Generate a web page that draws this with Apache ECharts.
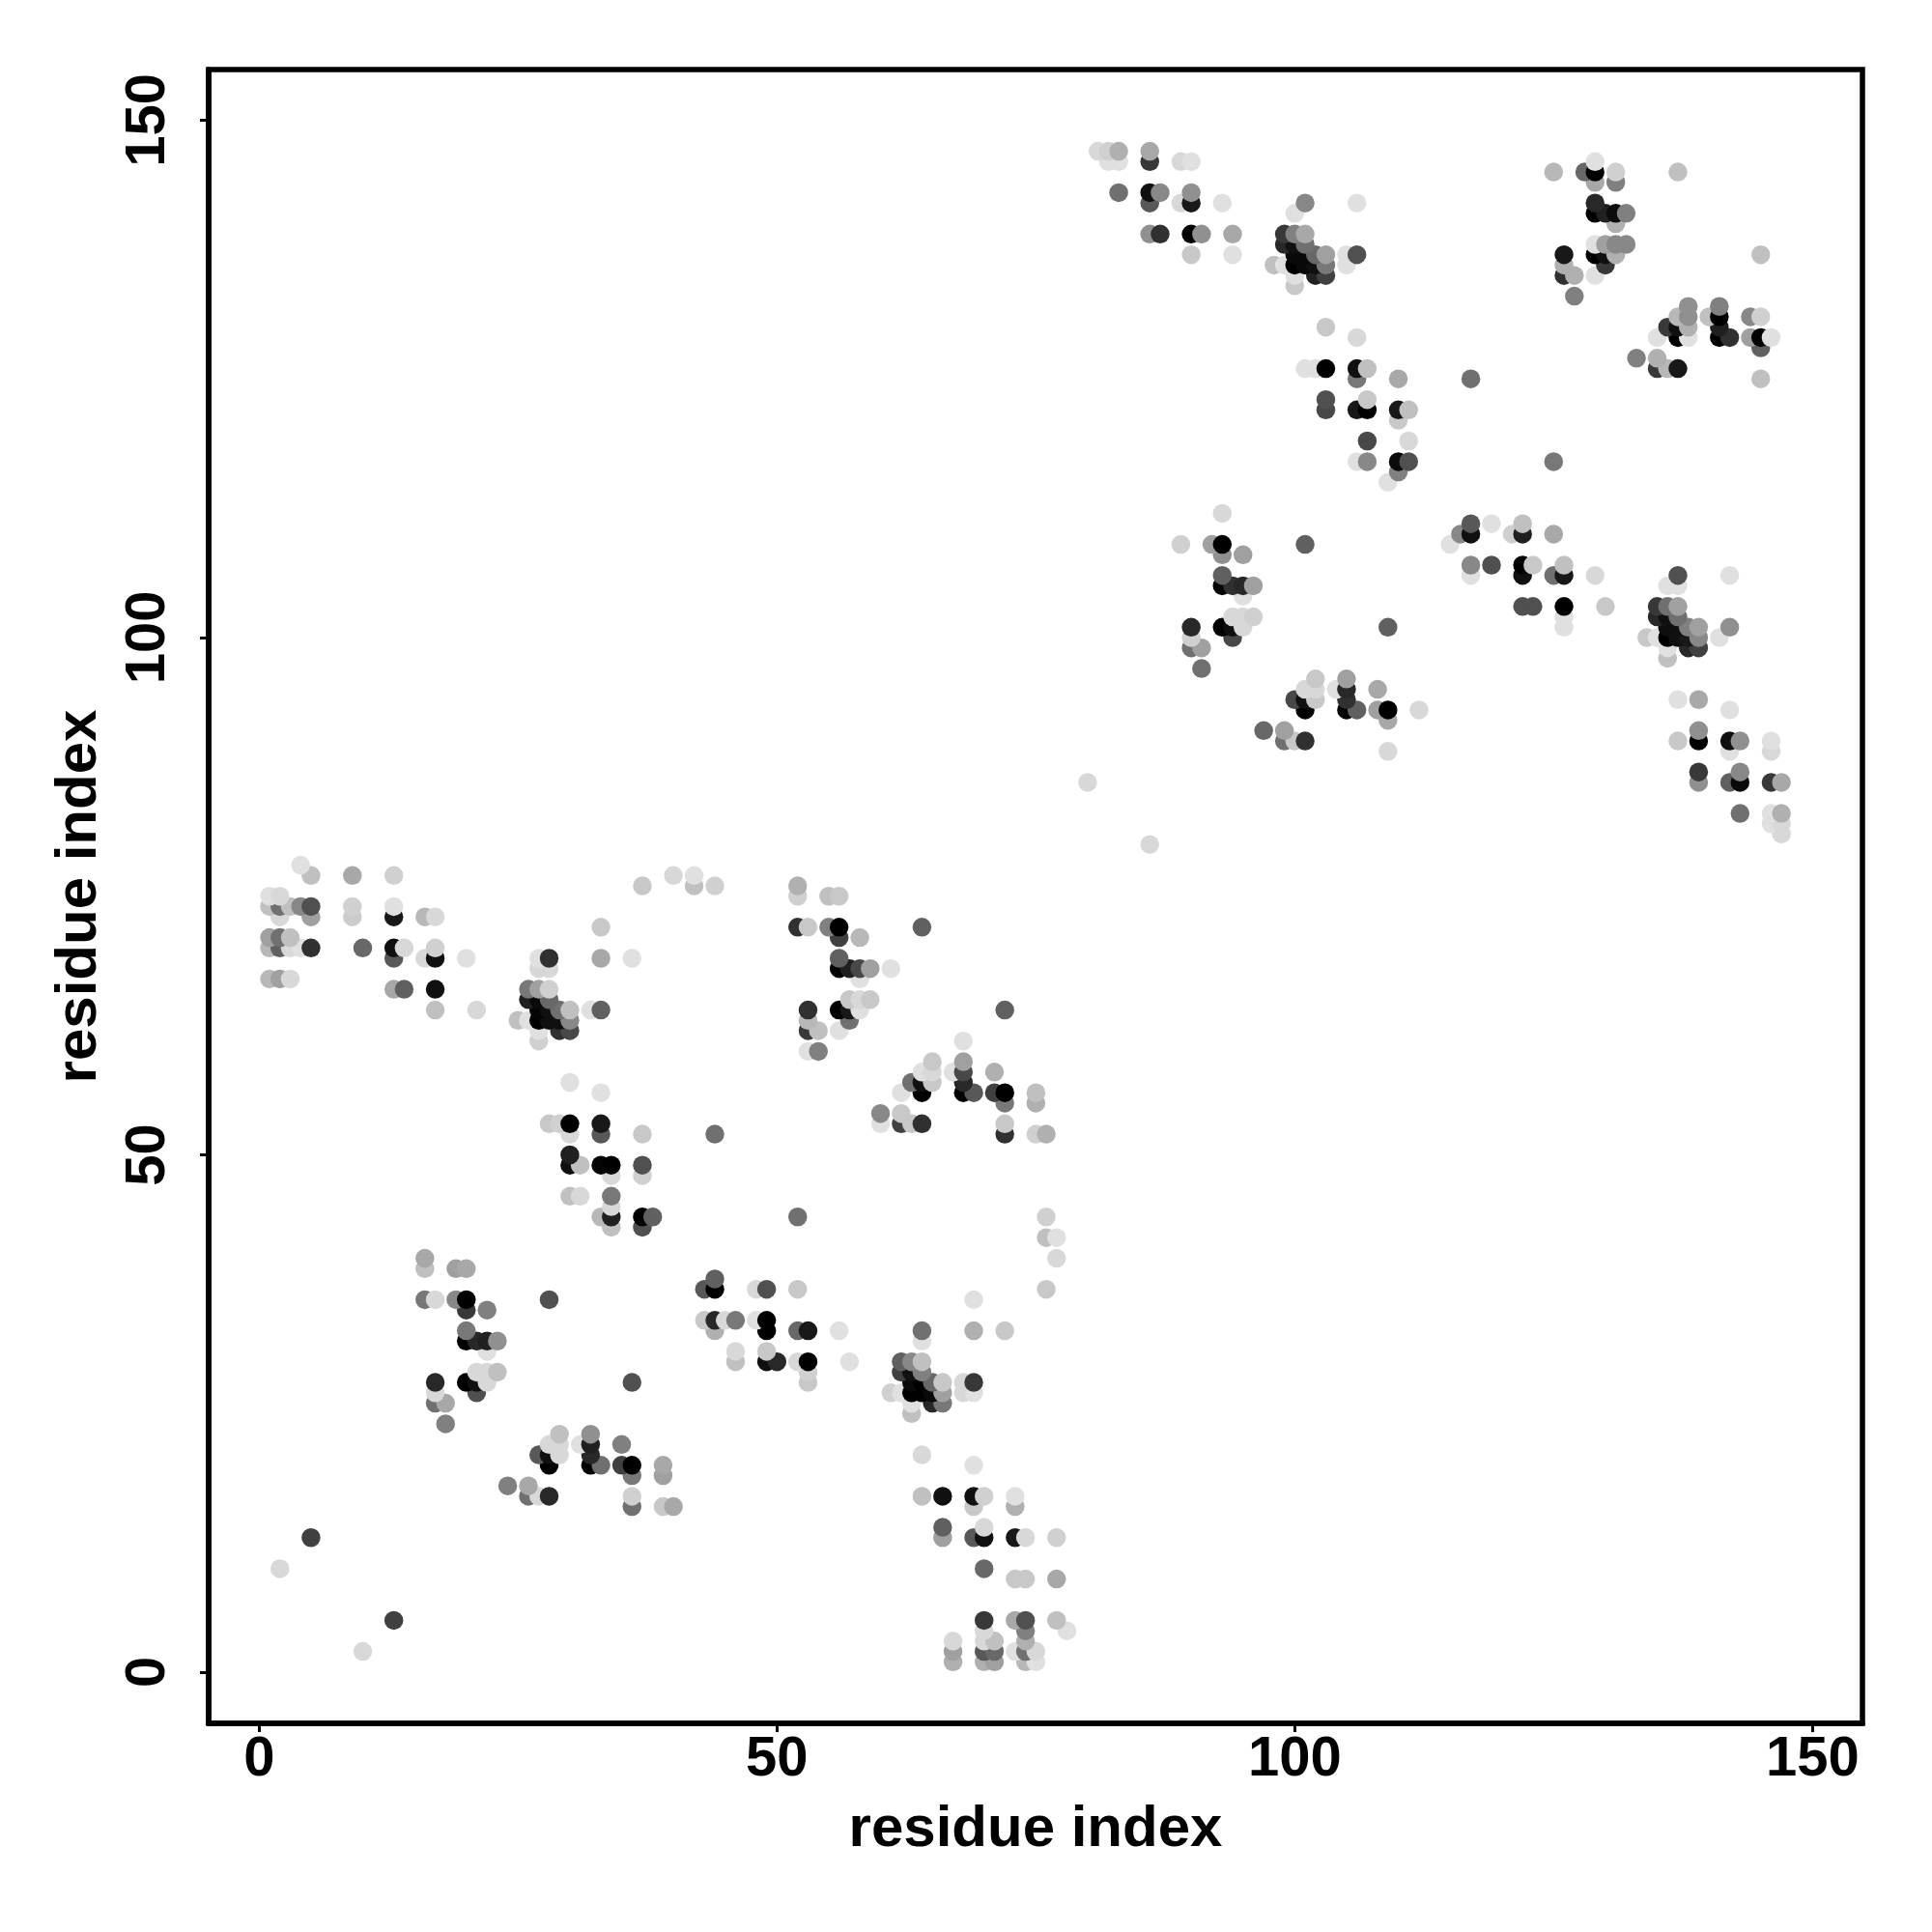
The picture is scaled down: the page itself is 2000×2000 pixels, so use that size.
<!DOCTYPE html>
<html>
<head>
<meta charset="utf-8">
<style>html,body{margin:0;padding:0;background:#fff}#c{width:2000px;height:2000px}</style>
<script src="https://cdn.jsdelivr.net/npm/echarts@6/dist/echarts.min.js"></script>
</head>
<body>
<div id="c"></div>
<script>
// Each entry: [residue x, residue y, grey level]
const xAxisTicks = [0, 50, 100, 150];
const yAxisTicks = [0, 50, 100, 150];
const xTitle = 'residue index';
const yTitle = 'residue index';

const blockUpperLeft = [
[4,78,0xe0],[5,77,0xc0],[9,77,0xa8],[13,77,0xd0],[37,76,0xc8],
[1,75,0xe0],[2,75,0xd8],
[1,74,0xc0],[2,74,0x70],[3,74,0xc0],[4,74,0x88],[5,74,0x50],[9,74,0xd0],[13,74,0xe0],
[2,73,0xd8],[5,73,0xa0],[9,73,0xcc],[13,73,0x18],[16,73,0xb8],[17,73,0xd8],
[33,72,0xc8],
[1,71,0xa0],[2,71,0x70],[3,71,0xc0],
[1,70,0xb8],[2,70,0x60],[3,70,0xd8],[4,70,0xe0],[5,70,0x30],[10,70,0x68],[13,70,0x10],[14,70,0xd8],[17,70,0xd0],
[13,69,0x58],[16,69,0xd8],[17,69,0x10],[20,69,0xe0],[27,69,0xe0],[28,69,0x30],[33,69,0xa8],[36,69,0xe0],
[27,68,0xd8],[28,68,0xd8],
[1,67,0xb8],[2,67,0xa0],[3,67,0xd8],
[13,66,0xa8],[14,66,0x60],[17,66,0x10],[26,66,0x78],[27,66,0xa0],[28,66,0xd0],
[26,65,0x20],[27,65,0x0a],[28,65,0x68],
[17,64,0xc0],[21,64,0xd8],[27,64,0x05],[28,64,0x10],[29,64,0x70],[30,64,0xc0],[32,64,0xe0],[33,64,0x60],
[25,63,0xc0],[26,63,0xe0],[27,63,0x00],[28,63,0x10],[29,63,0x10],[30,63,0x88],
[27,62,0xe0],[29,62,0x30],[30,62,0x48],
[27,61,0xd0]
];
const blockHelixA = [
[30,57,0xe0],[33,56,0xe0],
[28,53,0xc8],[29,53,0xd0],[30,53,0x00],[33,53,0x18],
[30,52,0xd8],[33,52,0x58],[37,52,0xc8],
[30,50,0x20],
[30,49,0x10],[31,49,0xc0],[33,49,0x05],[34,49,0x00],[37,49,0x50],
[34,48,0xd8],[37,48,0xd0],
[30,46,0xc0],[31,46,0xd8],[34,46,0x78],
[34,45,0xd8],
[33,44,0xb8],[34,44,0x20],[37,44,0x00],[38,44,0x60],
[34,43,0xc0],[37,43,0x50]
];
const blockMiddle = [
[40,77,0xd8],[42,77,0xe0],[42,76,0xc0],[44,76,0xd0],
[52,76,0xb0],[52,75,0xd0],[55,75,0xc0],[56,75,0xc8],
[52,72,0x30],[53,72,0xc8],[55,72,0x80],[56,72,0x00],[64,72,0x60],
[56,71,0x40],[58,71,0xb8],
[56,69,0x60],
[56,68,0x00],[57,68,0x20],[58,68,0x48],[59,68,0xa0],[61,68,0xe0],
[58,67,0xe0],
[57,65,0xc8],[58,65,0xd8],[59,65,0xc8],
[53,64,0x30],[56,64,0x00],[57,64,0x18],[58,64,0xe0],[72,64,0x60],
[53,63,0xb8],[57,63,0x70],
[53,62,0x38],[54,62,0xc0],[56,62,0xe0],
[68,61,0xe0],[53,60,0xe0],[54,60,0x80],
[65,59,0xc8],[68,59,0xa0],
[64,58,0xe0],[65,58,0xd8],[67,58,0xe0],[68,58,0x48],[71,58,0xb0],
[63,57,0x70],[64,57,0x10],[65,57,0xc8],[68,57,0x28],
[62,56,0xe0],[64,56,0x00],[68,56,0x00],[69,56,0x58],[71,56,0x40],[72,56,0x00],[75,56,0xc0],
[72,55,0x78],[75,55,0xb0],
[60,54,0x88],[62,54,0xc8],
[60,53,0xe0],[62,53,0x40],[63,53,0xc8],[64,53,0x30],[72,53,0xc8],
[44,52,0x70],[72,52,0x30],[75,52,0xd0],[76,52,0xb0],
[52,44,0x70],[76,44,0xd0],[76,42,0xc0],[77,42,0xe0],[77,40,0xd8]
];
const blockLowerLeft = [
[16,40,0xa8],[16,39,0xc0],[19,39,0xa0],[20,39,0xa8],
[16,36,0x78],[17,36,0xd8],[19,36,0x88],[20,36,0x00],[28,36,0x50],
[20,35,0x38],[22,35,0x80],
[20,33,0x78],
[20,32,0x00],[21,32,0x28],[22,32,0x20],[23,32,0x90],
[22,31,0xe0],
[21,29,0xd8],[22,29,0xd8],[23,29,0xc0],
[17,28,0x28],[20,28,0x00],[21,28,0x10],[22,28,0xd8],[36,28,0x50],
[17,27,0xd8],[21,27,0x50],
[17,26,0x70],[18,26,0xa8],
[18,24,0x80],
[29,23,0xc0],[32,23,0x90],
[28,22,0xd8],[29,22,0xd8],[31,22,0xe0],[32,22,0x20],[35,22,0x80],
[27,21,0x58],[28,21,0x10],[29,21,0xd8],[32,21,0x28],
[28,20,0x00],[32,20,0x00],[33,20,0x70],[35,20,0x40],[36,20,0x00],[39,20,0xa8],
[36,19,0x78],[39,19,0xa0],
[24,18,0x80],[26,18,0xa8],
[26,17,0x70],[27,17,0xd8],[28,17,0x28],[36,17,0xd0],
[36,16,0x70],[39,16,0xc8],[40,16,0xa8],
[5,13,0x40],[2,10,0xd8],[13,5,0x40],[10,2,0xd8]
];
const blockLowerMiddle = [
[44,38,0x60],[43,37,0x58],[44,37,0x00],[48,37,0xd8],[49,37,0x50],[52,37,0xc8],[76,37,0xc8],
[69,36,0xe0],
[43,34,0xc8],[44,34,0x28],[45,34,0xd8],[46,34,0x78],[48,34,0xe0],[49,34,0x00],
[44,33,0xb0],[49,33,0x00],[52,33,0x68],[53,33,0x18],[56,33,0xe0],[64,33,0x70],[69,33,0xb0],[72,33,0xc8],
[64,32,0xe0],
[46,31,0xd8],[49,31,0xc8],
[46,30,0xc0],[49,30,0x10],[50,30,0x28],[52,30,0xd8],[53,30,0x00],[57,30,0xe0],[62,30,0x60],[63,30,0x88],[64,30,0xc0],
[53,29,0xd0],[62,29,0x40],[63,29,0x10],[64,29,0x80],
[53,28,0xc8],[63,28,0x0a],[64,28,0x00],[65,28,0x68],[66,28,0xc8],[68,28,0xd8],[69,28,0x38],
[61,27,0xd0],[62,27,0xe0],[63,27,0x00],[64,27,0x00],[65,27,0x0a],[66,27,0xa0],[68,27,0xd8],[69,27,0xe0],
[63,26,0xe0],[65,26,0x28],[66,26,0x78],
[63,25,0xc0],
[64,21,0xd8],[69,20,0xe0],
[64,17,0xc0],[66,17,0x10],[69,17,0x10],[70,17,0xd0],[73,17,0xe0],
[69,16,0xc8],[73,16,0xb0],
[66,14,0x60],[70,14,0xd8],
[66,13,0xa0],[69,13,0x58],[70,13,0x10],[73,13,0x18],[74,13,0xd8],[77,13,0xd0],
[70,10,0x68],
[73,9,0xc8],[74,9,0xc8],[77,9,0xa8],
[70,5,0x38],[73,5,0xa8],[74,5,0x50],[77,5,0xc0],
[70,4,0xd8],[74,4,0x80],[78,4,0xe0],
[67,3,0xd8],[70,3,0xd8],[71,3,0xc0],[74,3,0xb0],
[67,2,0xa0],[70,2,0x58],[71,2,0x68],[73,2,0xe0],[74,2,0x70],[75,2,0xd8],
[67,1,0xb0],[70,1,0xb0],[71,1,0xa0],[74,1,0xb8],[75,1,0xe0]
];
const blockTopMiddle = [
[81,147,0xd8],[82,147,0xd0],[83,147,0xb0],[86,147,0xa8],
[82,146,0xe0],[83,146,0xe0],[86,146,0x38],[89,146,0xd8],[90,146,0xe0],
[83,143,0x70],[86,143,0x10],[87,143,0x88],[90,143,0x90],
[86,142,0x58],[89,142,0xd8],[90,142,0x18],[93,142,0xe0],[101,142,0x88],[106,142,0xe0],
[100,141,0xe0],
[86,139,0x90],[87,139,0x30],[90,139,0x00],[91,139,0x90],[94,139,0xa8],[99,139,0x38],[100,139,0x80],[101,139,0xa8],
[99,138,0x28],[100,138,0x10],[101,138,0x70],
[90,137,0xc8],[94,137,0xe0],[100,137,0x0a],[101,137,0x0a],[102,137,0x68],[103,137,0xa0],[105,137,0xe0],[106,137,0x50],
[98,136,0xc0],[99,136,0xe0],[100,136,0x00],[101,136,0x0a],[102,136,0x10],[103,136,0x78],[105,136,0xe0],
[100,135,0xe0],[102,135,0x20],[103,135,0x40],
[100,134,0xc8],
[103,130,0xc8],[106,129,0xd8],
[101,126,0xe0],[102,126,0xe0],[103,126,0x00],[106,126,0x10],[107,126,0xc0],
[106,125,0x78],[110,125,0xa8],[117,125,0x70],
[103,123,0x50],[107,123,0xc8],
[103,122,0x48],[106,122,0x18],[107,122,0x00],[110,122,0x18],[111,122,0xc0],
[110,121,0xc8],
[107,119,0x48],[111,119,0xd8],
[106,117,0xe0],[107,117,0x88],[110,117,0x0a],[111,117,0x50],
[110,116,0x80],[109,115,0xe0]
];
const blockTopRight = [
[129,146,0xe0],[125,145,0xb8],[128,145,0x68],[129,145,0x00],[131,145,0xd0],[137,145,0xc0],
[129,144,0xa8],[131,144,0x80],
[129,142,0x28],
[129,141,0x00],[130,141,0x20],[131,141,0x0a],[132,141,0x80],
[131,140,0xb0],
[129,138,0xe0],[130,138,0xa0],[131,138,0x88],[132,138,0x88],
[126,137,0x18],[129,137,0x00],[130,137,0x10],[131,137,0xb0],[145,137,0xc0],
[126,136,0xb0],[130,136,0x38],
[126,135,0x30],[127,135,0xb0],[129,135,0xe0],
[127,133,0x80],
[138,132,0x90],[141,132,0x80],
[137,131,0xb8],[138,131,0x90],[140,131,0xc0],[141,131,0x00],[144,131,0x88],[145,131,0xd0],
[136,130,0x38],[137,130,0x10],[138,130,0xb0],[141,130,0x20],
[135,129,0xe0],[137,129,0x00],[138,129,0xe0],[141,129,0x00],[142,129,0x30],[144,129,0xa0],[145,129,0x00],[146,129,0xe0],
[145,128,0x60],
[133,127,0x80],[135,127,0xb0],
[135,126,0x38],[136,126,0xb8],[137,126,0x18],
[145,125,0xc0],
[125,117,0x78]
];
const blockCentreLeft = [
[93,112,0xd8],
[89,109,0xd0],[92,109,0xa0],[93,109,0x00],[101,109,0x60],
[93,108,0x90],[95,108,0xa0],
[93,106,0x60],
[93,105,0x00],[94,105,0x30],[95,105,0x28],[96,105,0xa0],
[95,104,0xe0],
[94,102,0xd8],[95,102,0xd8],[96,102,0xd0],
[90,101,0x28],[93,101,0x00],[94,101,0x10],[95,101,0xd8],[109,101,0x60],
[90,100,0xd0],[94,100,0x48],
[90,99,0x70],[91,99,0xa0],
[91,97,0x70],
[102,96,0xc8],[105,96,0xa0],
[101,95,0xd8],[102,95,0xd8],[104,95,0xe0],[105,95,0x28],[108,95,0xa8],
[100,94,0x48],[101,94,0x10],[102,94,0xc8],[105,94,0x30],
[101,93,0x00],[105,93,0x00],[106,93,0x60],[108,93,0xa0],[109,93,0x00],[112,93,0xd8],
[109,92,0xa8],
[97,91,0x68],[99,91,0xa0],
[99,90,0x70],[100,90,0xc8],[101,90,0x30],
[109,89,0xd8],
[80,86,0xd8],[86,80,0xd8]
];
const blockCentreRight = [
[117,111,0x58],[119,111,0xe0],[122,111,0xc0],
[116,110,0x88],[117,110,0x10],[121,110,0xd0],[122,110,0x20],[125,110,0xa8],
[115,109,0xe0],
[117,107,0x88],[119,107,0x50],[122,107,0x00],[123,107,0xc8],[126,107,0xc0],
[117,106,0xe0],[122,106,0x10],[125,106,0x70],[126,106,0x18],[129,106,0xd8],[137,106,0x50],[142,106,0xe0],
[136,105,0xe0],[137,105,0xe0],
[122,103,0x50],[123,103,0x50],[126,103,0x00],[130,103,0xc8],[135,103,0x38],[136,103,0x70],[137,103,0xa0],
[126,102,0xe0],[135,102,0x28],[136,102,0x10],[137,102,0x70],
[126,101,0xe0],[136,101,0x0f],[137,101,0x10],[138,101,0x80],[139,101,0xa0],[142,101,0x90],
[134,100,0xc8],[135,100,0xe0],[136,100,0x00],[137,100,0x10],[138,100,0x18],[139,100,0x88],[141,100,0xe0],
[136,99,0xe0],[138,99,0x28],[139,99,0x40],
[136,98,0xc0],
[137,94,0xe0],[139,94,0xa8],
[142,93,0xe0],
[139,91,0x90],
[137,90,0xc8],[139,90,0x00],[142,90,0x10],[143,90,0x90],[146,90,0xe0],
[142,89,0xe0],[146,89,0xd8],
[139,87,0x38],[143,87,0x88],
[139,86,0x90],[142,86,0x60],[143,86,0x0a],[146,86,0x38],[147,86,0xa8],
[143,83,0x70],[146,83,0xe0],[147,83,0xb0],
[146,82,0xe0],[147,82,0xd8],
[147,81,0xd8]
];

const contacts = [
  ...blockUpperLeft, ...blockHelixA, ...blockMiddle, ...blockLowerLeft, ...blockLowerMiddle,
  ...blockTopMiddle, ...blockTopRight, ...blockCentreLeft, ...blockCentreRight
].sort((a, b) => a[1] - b[1] || a[0] - b[0]);

const font = '"Liberation Sans", Arial, sans-serif';
const axisCommon = {
  type: 'value',
  nameLocation: 'middle',
  nameTextStyle: { fontFamily: font, fontWeight: 'bold', fontSize: 60, color: '#000' },
  axisLine: { show: true, onZero: false, lineStyle: { color: '#000', width: 5.5 } },
  splitLine: { show: false }
};

const chart = echarts.init(document.getElementById('c'), null, { renderer: 'canvas', width: 2000, height: 2000 });
chart.setOption({
  animation: false,
  backgroundColor: '#fff',
  grid: { left: 216, right: 72, top: 72, bottom: 216, show: true, borderColor: '#000', borderWidth: 5.5, backgroundColor: 'transparent' },
  xAxis: Object.assign({}, axisCommon, {
    min: -4.88, max: 154.82, name: xTitle, nameGap: 80,
    axisTick: { show: true, length: 9, lineStyle: { color: '#000', width: 3 }, customValues: xAxisTicks },
    axisLabel: { customValues: xAxisTicks, margin: 9, fontFamily: font, fontWeight: 'bold', fontSize: 58, color: '#000', hideOverlap: false }
  }),
  yAxis: Object.assign({}, axisCommon, {
    min: -4.95, max: 154.9, name: yTitle, nameGap: 104,
    axisTick: { show: true, length: 9, lineStyle: { color: '#000', width: 3 }, customValues: yAxisTicks },
    axisLabel: { customValues: yAxisTicks, rotate: 90, margin: 33, fontFamily: font, fontWeight: 'bold', fontSize: 58, color: '#000', hideOverlap: false }
  }),
  series: [{
    type: 'scatter',
    data: contacts,
    symbol: 'circle',
    symbolSize: 19.5,
    silent: true,
    progressive: 0,
    itemStyle: {
      opacity: 1,
      color: p => { const g = p.value[2]; return 'rgb(' + g + ',' + g + ',' + g + ')'; }
    }
  }]
});
</script>
</body>
</html>
